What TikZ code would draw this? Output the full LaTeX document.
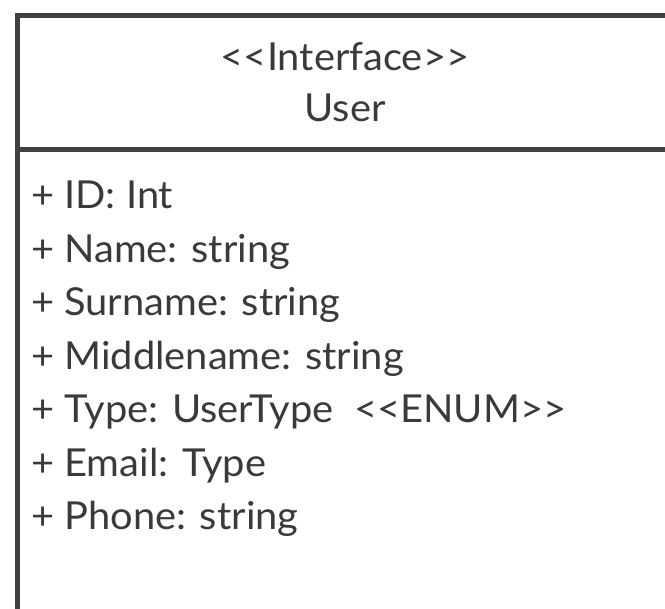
\documentclass[tikz,border=0pt]{standalone}
\usepackage{fontspec}
\setmainfont{Lato}[Ligatures=NoCommon,FakeStretch=1.035]
\definecolor{ink}{HTML}{3A3A3A}
\definecolor{edge}{HTML}{404040}
\newcommand{\lt}{{<}}
\newcommand{\gt}{{>}}
\begin{document}
\begin{tikzpicture}[x=1pt,y=-1pt,
  attr/.style={anchor=base west,inner sep=0pt,text=ink,font=\fontsize{38.5}{44}\selectfont},
  head/.style={anchor=base,inner sep=0pt,text=ink,font=\fontsize{38.5}{44}\selectfont},
  border/.style={draw=edge,line width=5pt}]
\useasboundingbox (0,0) rectangle (665,609);
\clip (0,0) rectangle (665,609);
\fill[white] (0,0) rectangle (665,609);
\node[border,rectangle,minimum width=657.5pt,minimum height=640pt,anchor=north west,inner sep=0pt] (box) at (14.5,13) {};
\coordinate (sepL) at (14.5,150);
\coordinate (sepR) at (672,150);
\draw[border] (sepL) -- (sepR);
\node[head] (stereo) at (345,71) {\lt\lt Interface\gt\gt};
\node[head] (name) at (345,122) {User};
\node[attr] (a1) at (31,209) {+ ID: Int};
\node[attr] (a2) at (31,262.5) {+ Name: string};
\node[attr] (a3) at (31,316) {+ Surname: string};
\node[attr] (a4) at (31,369.5) {+ Middlename: string};
\node[attr] (a5) at (31,423) {+ Type: UserType\ \ \lt\lt ENUM\gt\gt};
\node[attr] (a6) at (31,476.5) {+ Email: Type};
\node[attr] (a7) at (31,530) {+ Phone: string};
\end{tikzpicture}
\end{document}
